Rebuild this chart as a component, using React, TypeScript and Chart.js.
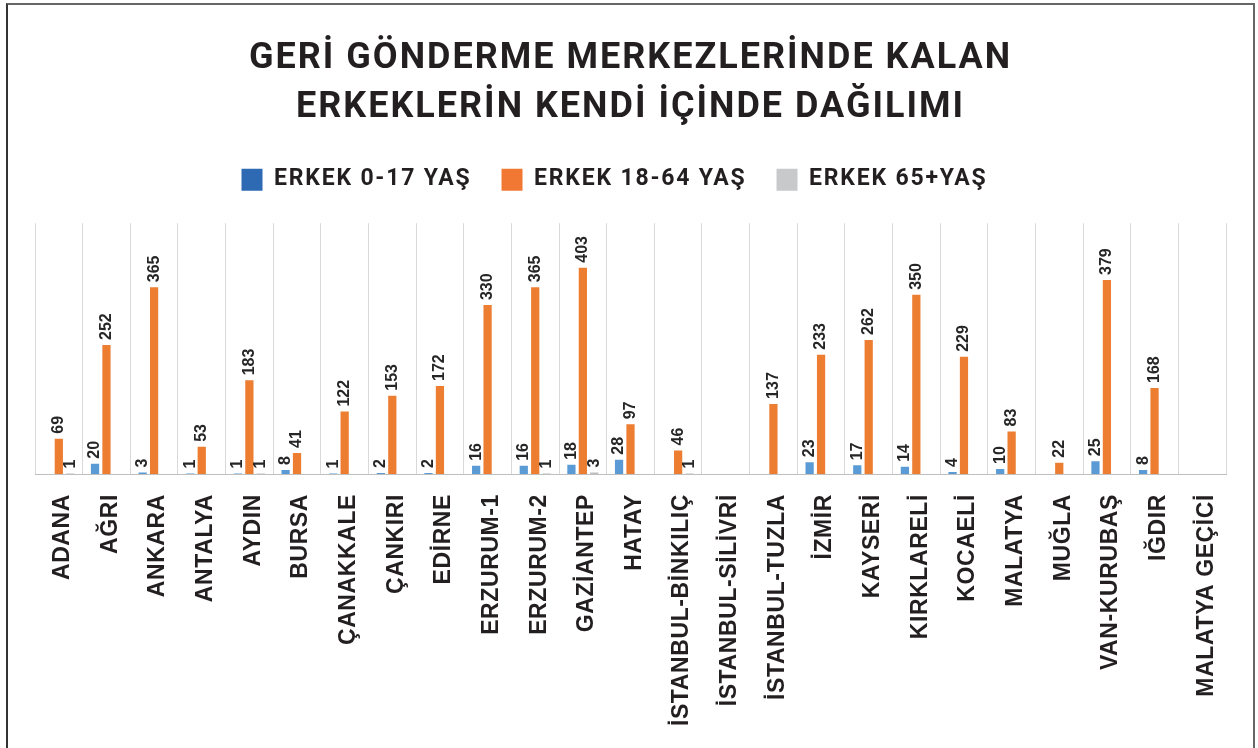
import React, { useEffect, useRef } from 'react';
import { Chart, registerables } from 'chart.js';

Chart.register(...registerables);

const titleLines = ['GERİ GÖNDERME MERKEZLERİNDE KALAN', 'ERKEKLERİN KENDİ İÇİNDE DAĞILIMI'];

const categories = [
  'ADANA', 'AĞRI', 'ANKARA', 'ANTALYA', 'AYDIN', 'BURSA', 'ÇANAKKALE', 'ÇANKIRI', 'EDİRNE',
  'ERZURUM-1', 'ERZURUM-2', 'GAZİANTEP', 'HATAY', 'İSTANBUL-BİNKILIÇ', 'İSTANBUL-SİLİVRİ',
  'İSTANBUL-TUZLA', 'İZMİR', 'KAYSERİ', 'KIRKLARELİ', 'KOCAELİ', 'MALATYA', 'MUĞLA',
  'VAN-KURUBAŞ', 'IĞDIR', 'MALATYA GEÇİCİ',
];

const seriesNames = ['ERKEK 0-17 YAŞ', 'ERKEK 18-64 YAŞ', 'ERKEK 65+YAŞ'];

const age0to17 = [null, 20, 3, 1, 1, 8, 1, 2, 2, 16, 16, 18, 28, null, null, null, 23, 17, 14, 4, 10, null, 25, 8, null];
const age18to64 = [69, 252, 365, 53, 183, 41, 122, 153, 172, 330, 365, 403, 97, 46, null, 137, 233, 262, 350, 229, 83, 22, 379, 168, null];
const age65plus = [1, null, null, null, 1, null, null, null, null, null, 1, 3, null, 1, null, null, null, null, null, null, null, null, null, null, null];

const barColors = ['#5B9BD5', '#ED7D31', '#BFBFBF'];
const legendColors = ['#2E6AB3', '#F07833', '#C8C9CB'];

const TEXT = '#231F20';
const ARIAL = '"Liberation Sans", Arial, sans-serif';
const ROBOTO = 'Roboto, "Noto Sans", sans-serif';

const TITLE_SPACING = '2px';
const LEGEND_SPACING = '1.8px';
const TICK_SPACING = '0.6px';
const LEGEND_SHIFT = -16;

function withSpacing(ctx: any, spacing: string, fn: () => any) {
  ctx.save();
  ctx.letterSpacing = spacing;
  try {
    return fn();
  } finally {
    ctx.restore();
  }
}

const textSpacing = {
  id: 'textSpacing',
  beforeLayout(chart: any) {
    const lg = chart.legend;
    if (lg && !lg.__spaced) {
      const fit = lg.fit.bind(lg);
      const draw = lg.draw.bind(lg);
      lg.fit = () => withSpacing(chart.ctx, LEGEND_SPACING, fit);
      lg.draw = () => withSpacing(chart.ctx, LEGEND_SPACING, draw);
      lg.__spaced = true;
    }
    const tb = chart.titleBlock;
    if (tb && !tb.__spaced) {
      const draw = tb.draw.bind(tb);
      tb.draw = () => withSpacing(chart.ctx, TITLE_SPACING, draw);
      tb.__spaced = true;
    }
    const sx = chart.scales && chart.scales.x;
    if (sx && !sx.__spaced) {
      const drawLabels = sx.drawLabels.bind(sx);
      sx.drawLabels = (area: any) => withSpacing(chart.ctx, TICK_SPACING, () => drawLabels(area));
      sx.__spaced = true;
    }
  },
  afterLayout(chart: any) {
    const lg = chart.legend;
    if (lg) {
      lg.left += LEGEND_SHIFT;
      lg.right += LEGEND_SHIFT;
    }
  },
};

const valueLabels = {
  id: 'valueLabels',
  afterDatasetsDraw(chart: any) {
    const ctx = chart.ctx;
    ctx.save();
    ctx.font = `bold 16px ${ARIAL}`;
    ctx.fillStyle = '#262626';
    ctx.textAlign = 'left';
    ctx.textBaseline = 'middle';
    chart.data.datasets.forEach((ds: any, di: number) => {
      const meta = chart.getDatasetMeta(di);
      meta.data.forEach((bar: any, i: number) => {
        const v = ds.data[i];
        if (v === null || v === undefined) return;
        ctx.save();
        ctx.translate(bar.x, bar.y - 5);
        ctx.rotate(-Math.PI / 2);
        ctx.fillText(String(v), 0, 0);
        ctx.restore();
      });
    });
    ctx.restore();
  },
};

export default function App() {
  const ref = useRef<HTMLCanvasElement | null>(null);

  useEffect(() => {
    if (!ref.current) return;
    const chart = new Chart(ref.current, {
      type: 'bar',
      data: {
        labels: categories,
        datasets: [
          { label: seriesNames[0], data: age0to17, backgroundColor: barColors[0] },
          { label: seriesNames[1], data: age18to64, backgroundColor: barColors[1] },
          { label: seriesNames[2], data: age65plus, backgroundColor: barColors[2] },
        ] as any,
      },
      options: {
        responsive: false,
        animation: false,
        devicePixelRatio: 1,
        datasets: { bar: { barPercentage: 0.72, categoryPercentage: 0.72 } },
        layout: { padding: { left: 35, right: 32, top: 0, bottom: 0 } },
        plugins: {
          title: {
            display: true,
            text: titleLines,
            color: TEXT,
            font: { family: ROBOTO, size: 36, weight: 'bold', lineHeight: 1.35 },
            padding: { top: 35, bottom: 6 },
          },
          subtitle: {
            display: true,
            text: '',
            font: { size: 1, lineHeight: 1 },
            padding: { top: 11, bottom: 10 },
          },
          legend: {
            display: true,
            weight: 1800,
            labels: {
              boxWidth: 21,
              boxHeight: 22,
              padding: 30,
              color: TEXT,
              font: { family: ROBOTO, size: 23, weight: 'bold' },
              generateLabels: (c: any) =>
                c.data.datasets.map((ds: any, i: number) => ({
                  text: ds.label,
                  fillStyle: legendColors[i],
                  strokeStyle: legendColors[i],
                  lineWidth: 0,
                  fontColor: TEXT,
                  datasetIndex: i,
                  hidden: false,
                })),
            },
          },
          tooltip: { enabled: false },
        },
        scales: {
          x: {
            grid: { color: '#D9D9D9', lineWidth: 1, drawTicks: false, offset: true },
            border: { color: '#BFBFBF', width: 1 },
            ticks: {
              autoSkip: false,
              minRotation: 90,
              maxRotation: 90,
              padding: 20,
              labelOffset: 4,
              color: TEXT,
              font: { family: ARIAL, size: 23, weight: 'bold' },
            },
            afterFit: (s: any) => {
              s.height = 274;
            },
          },
          y: { display: false, min: 0, max: 490 },
        },
      },
      plugins: [textSpacing, valueLabels],
    });
    return () => chart.destroy();
  }, []);

  return (
    <div style={{ position: 'absolute', left: 0, top: 0, width: 1258, height: 748, overflow: 'hidden', background: '#fff' }}>
      <canvas ref={ref} width={1258} height={748} style={{ position: 'absolute', left: 0, top: 0, width: 1258, height: 748 }} />
      <div
        style={{
          position: 'absolute',
          left: 6,
          top: 3,
          width: 1245,
          height: 800,
          borderStyle: 'solid',
          borderWidth: 2,
          borderColor: '#666 #666 #666 #333',
          pointerEvents: 'none',
        }}
      />
    </div>
  );
}
